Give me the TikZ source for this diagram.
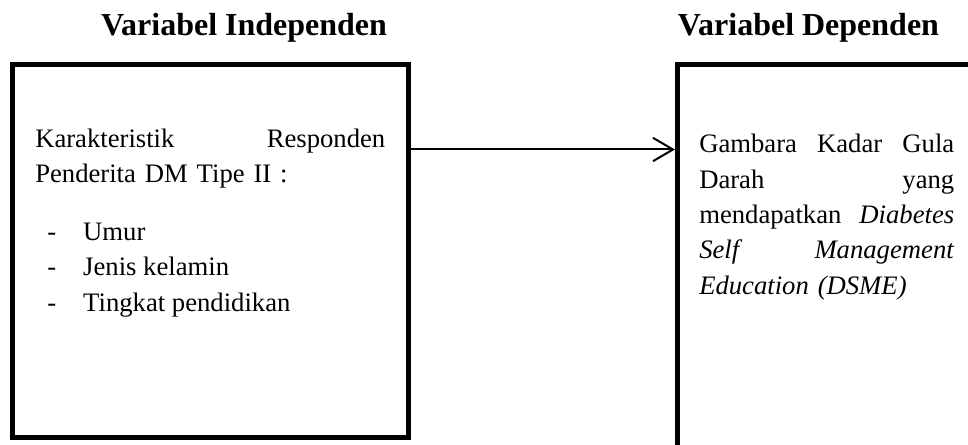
\documentclass[tikz,border=0pt]{standalone}
\usepackage{fontspec}
\setmainfont{Liberation Serif}
\usetikzlibrary{arrows.meta}
\newcommand\lline[1]{\makebox[262.5pt][l]{#1}}
\newcommand\rline[1]{\makebox[191.25pt][l]{#1}}
\tikzset{
  box/.style={draw, line width=3.75pt, rectangle, inner sep=0pt},
  title/.style={font=\fontsize{24}{28}\selectfont\bfseries, anchor=base, inner sep=0pt},
  body/.style={font=\fontsize{20}{26.6}\selectfont, anchor=north west, inner sep=0pt, align=left},
  arr/.style={line width=1.5pt, -{Straight Barb[length=15pt, width=17.5pt, line width=1.5pt]}}
}
\begin{document}
\begin{tikzpicture}[x=0.75pt, y=-0.75pt]
\useasboundingbox (0,0) rectangle (968,445);
\clip (0,0) rectangle (968,445);
\node[title] (t1) at (244,35.7) {Variabel Independen};
\node[title] (t2) at (808.5,35.7) {Variabel Dependen};
\node[box, minimum width=297pt, minimum height=279.75pt] (leftbox) at (210.5,251) {};
\node[box, minimum width=241.875pt, minimum height=311.625pt] (rightbox) at (838.75,272.25) {};
\node[body, text width=263pt] (lt) at (35,122.2)
  {\strut\lline{Karakteristik\hfill Responden}\\\mbox{Penderita DM Tipe II :}};
\node[body] (ll) at (47,215.2)
  {\strut\makebox[27pt][l]{-}Umur\\\makebox[27pt][l]{-}Jenis kelamin\\\makebox[27pt][l]{-}Tingkat pendidikan};
\node[body, text width=192pt] (rt) at (699,127.5)
  {\strut\rline{Gambara\hfill Kadar\hfill Gula}\\\rline{Darah\hfill yang}\\\rline{mendapatkan\hfill\textit{Diabetes}}\\\rline{\textit{Self\hfill Management}}\\\mbox{\textit{Education (DSME)}}};
\coordinate (ay) at (0,149.5);
\draw[arr] (leftbox.east |- ay) -- (rightbox.west |- ay);
\end{tikzpicture}
\end{document}
